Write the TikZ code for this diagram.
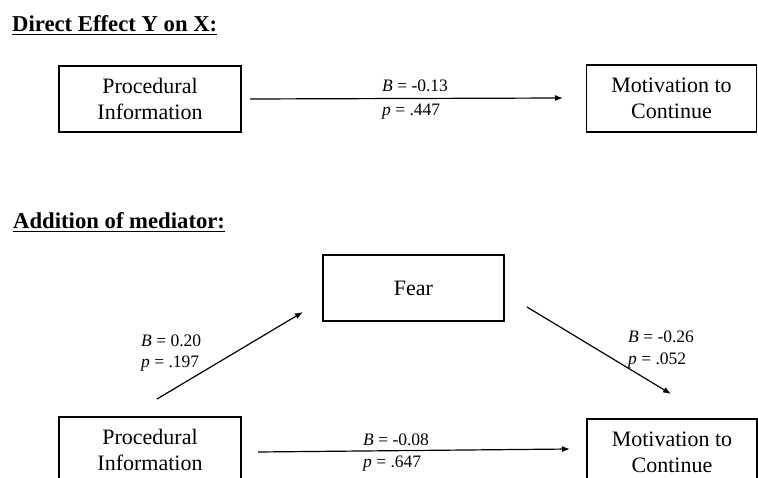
\documentclass[tikz,border=0pt]{standalone}
\usepackage{fontspec}
\setmainfont{Liberation Serif}
\usetikzlibrary{arrows.meta}
\begin{document}
\begin{tikzpicture}[x=1pt,y=-1pt,
  vbox/.style={draw=black, line width=1.3pt, align=center, inner sep=0pt,
    font=\fontsize{22}{26}\selectfont},
  conn/.style={line width=1.2pt, -{Latex[length=8pt,width=6pt]}},
  lbl/.style={anchor=base west, inner sep=0pt, font=\fontsize{17.5}{20}\selectfont},
  ttl/.style={anchor=base west, inner sep=0pt, font=\fontsize{22.7}{26}\selectfont\bfseries}]
\useasboundingbox (0,0) rectangle (758,478);
\clip (0,0) rectangle (758,478);
% titles
\node[ttl] (t1) at (12,32) {\underline{Direct Effect Y on X:}};
\node[ttl] (t2) at (13,229) {\underline{Addition of mediator:}};
% top row boxes
\node[vbox, minimum width=182pt, minimum height=66pt] (pi1) at (150,99) {Procedural\\Information};
\node[vbox, minimum width=170pt, minimum height=67pt] (mc1) at (671.5,98.5) {Motivation to\\Continue};
% bottom part boxes
\node[vbox, minimum width=181pt, minimum height=66pt] (fear) at (413.5,288) {Fear};
\node[vbox, minimum width=182pt, minimum height=66pt] (pi2) at (150,450) {Procedural\\Information};
\node[vbox, minimum width=170pt, minimum height=66pt] (mc2) at (672,452) {Motivation to\\Continue};
% connector end points
\coordinate (a1s) at (250,99);
\coordinate (a1e) at (563,98);
\coordinate (aas) at (157,399);
\coordinate (aae) at (303,312);
\coordinate (abs) at (527,307);
\coordinate (abe) at (671,394);
\coordinate (acs) at (258,452);
\coordinate (ace) at (570,449);
\draw[conn] (a1s) -- (a1e);
\draw[conn] (aas) -- (aae);
\draw[conn] (abs) -- (abe);
\draw[conn] (acs) -- (ace);
% labels
\node[lbl] (l1b) at (382,92) {\textit{B} = -0.13};
\node[lbl] (l1p) at (382,116) {\textit{p} = .447};
\node[lbl] (lab) at (141,347) {\textit{B} = 0.20};
\node[lbl] (lap) at (141,368) {\textit{p} = .197};
\node[lbl] (lbb) at (628,343) {\textit{B} = -0.26};
\node[lbl] (lbp) at (628,365) {\textit{p} = .052};
\node[lbl] (lcb) at (363,445) {\textit{B} = -0.08};
\node[lbl] (lcp) at (363,467) {\textit{p} = .647};
\end{tikzpicture}
\end{document}
